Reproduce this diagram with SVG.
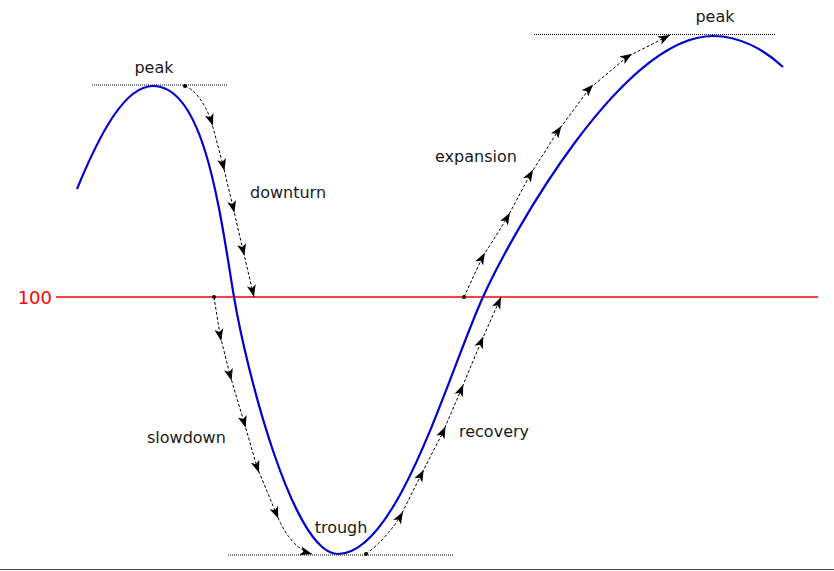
<svg xmlns="http://www.w3.org/2000/svg" width="834" height="571" viewBox="0 0 834 571">
<style>
text{font-family:"DejaVu Sans","Liberation Sans",sans-serif;font-size:16px;fill:#1a1a1a}
.dot-line{stroke:#000;stroke-width:1;stroke-dasharray:1,1;fill:none}
.flow{stroke:#000;stroke-width:1;stroke-dasharray:3,2;fill:none;marker-mid:url(#mid);marker-end:url(#end)}
.start{fill:#000}
</style>
<defs>
<marker id="mid" markerUnits="userSpaceOnUse" markerWidth="14" markerHeight="14" viewBox="-7 -7 14 14" refX="0" refY="0" orient="auto">
<path d="M6,0 L-6,-4.5 L-3,0 L-6,4.5 Z" fill="#000"/>
</marker>
<marker id="end" markerUnits="userSpaceOnUse" markerWidth="14" markerHeight="14" viewBox="-7 -7 14 14" refX="6" refY="0" orient="auto">
<path d="M6,0 L-6,-4.5 L-3,0 L-6,4.5 Z" fill="#000"/>
</marker>
</defs>
<rect width="834" height="571" fill="#fff"/>
<line x1="0" y1="569.5" x2="834" y2="569.5" stroke="#444" stroke-width="1"/>
<g id="level-100">
<line x1="56" y1="297" x2="818" y2="297" stroke="#ff0000" stroke-width="1.5"/>
<text x="52" y="304" text-anchor="end" style="fill:#ff0000;font-size:18px">100</text>
</g>
<g id="peak-left">
<line class="dot-line" x1="92" y1="85" x2="227" y2="85"/>
<text x="154" y="73" text-anchor="middle">peak</text>
</g>
<g id="trough">
<line class="dot-line" x1="228" y1="555" x2="453" y2="555"/>
<text x="341" y="533" text-anchor="middle">trough</text>
</g>
<g id="peak-right">
<line class="dot-line" x1="534" y1="34.5" x2="775" y2="34.5"/>
<text x="715" y="22" text-anchor="middle">peak</text>
</g>
<g id="downturn"><text x="250" y="198">downturn</text></g>
<g id="slowdown"><text x="147" y="443">slowdown</text></g>
<g id="recovery"><text x="459" y="437">recovery</text></g>
<g id="expansion"><text x="435" y="162">expansion</text></g>
<g id="cycle-curve">
<path d="M77,189 C100,133 125,86 153,86 C205,86 220,213 234,297 C246,369 293,554 338,554 C398,554 448,374 483,297 C513,231 623,36 713,36 C740,36 765,50 783,67" fill="none" stroke="#0000d0" stroke-width="2.2"/>
</g>
<g id="connectors">
<path class="flow" d="M185,86 Q200,92 211,120 L223,165 L233,207 L243,250 L254,297"/>
<circle class="start" cx="185" cy="86" r="2"/>
<path class="flow" d="M214,297 L220,335 L230,375 L244,422 L257,467 L276,513 Q290,548 312,554"/>
<circle class="start" cx="214" cy="297" r="2"/>
<path class="flow" d="M366,554 Q385,540 400,517 L421,475 L443,432 L461,390 L481,342 L501,297"/>
<circle class="start" cx="366" cy="554" r="2"/>
<path class="flow" d="M464,297 L482,258 L507,218 L530,175 L558,131 L589,89 L627,57 L670,35"/>
<circle class="start" cx="464" cy="297" r="2"/>
</g>
</svg>
